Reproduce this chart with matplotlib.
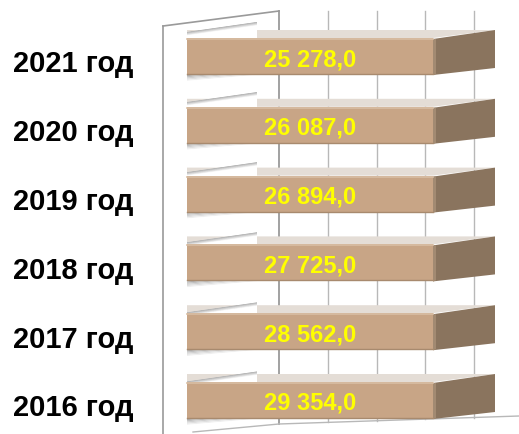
import matplotlib
matplotlib.use("Agg")
import matplotlib.pyplot as plt
from matplotlib.patches import Polygon
import numpy as np

# ---- data ----
years = ["2021 год", "2020 год", "2019 год", "2018 год", "2017 год", "2016 год"]
values = [25278.0, 26087.0, 26894.0, 27725.0, 28562.0, 29354.0]
value_labels = ["25 278,0", "26 087,0", "26 894,0", "27 725,0", "28 562,0", "29 354,0"]
grid_ticks = [0, 5000, 10000, 15000, 20000, 25000]
axis_max = 25000

# ---- geometry (pixel-based helpers) ----
W, H = 519, 435
X0_PX = 187.0                      # front origin of value axis
UPP = axis_max / 246.0             # value units per pixel
Y0_PX = 57.5                       # centre of first bar
STEP_PX = 68.8                     # category spacing in px


def dx(px):
    return px * UPP


def dy(px):
    return px / STEP_PX


def mix(c1, c2, t):
    a = np.array(matplotlib.colors.to_rgb(c1))
    b = np.array(matplotlib.colors.to_rgb(c2))
    return tuple(a + (b - a) * t)


fig = plt.figure(figsize=(W / 100, H / 100), dpi=100)
ax = fig.add_axes([0, 0, 1, 1])
ax.set_xlim(-dx(X0_PX), dx(W - X0_PX))
ax.set_ylim(dy(H - Y0_PX), -dy(Y0_PX))
ax.axis("off")

wall_col = "#9a9a9a"
y_top_back = -dy(Y0_PX - 12)
y_top_left = -dy(Y0_PX - 27)
back_x0 = dx(279 - X0_PX)
left_x = dx(163 - X0_PX)

# left wall
ax.plot([left_x, left_x], [y_top_left, dy(H - Y0_PX)], color=wall_col, lw=1.2, zorder=1)
ax.plot([left_x, back_x0], [y_top_left, y_top_back], color=wall_col, lw=1.2, zorder=1)

# back wall gridlines (scaled like the data, shifted to the back plane)
back_scale = 195.0 / (20000 / UPP)
floor_y_left = dy(425 - Y0_PX)
floor_y_right = dy(417 - Y0_PX)
x_right = dx(W - X0_PX)
for t in grid_ticks:
    gx = back_x0 + t * back_scale
    fy = floor_y_left + (floor_y_right - floor_y_left) * (gx - back_x0) / (x_right - back_x0)
    ax.plot([gx, gx], [y_top_back, fy], color=wall_col if t == 0 else "#b8b8b8",
            lw=1.3 if t == 0 else 1.0, zorder=1)
# floor lines
ax.plot([back_x0, x_right], [floor_y_left, floor_y_right], color="#b8b8b8", lw=1.0, zorder=1)
ax.plot([dx(193 - X0_PX), back_x0], [dy(433 - Y0_PX), floor_y_left], color="#b8b8b8", lw=1.0, zorder=1)

bar_h = dy(37)
top_d = dy(8)
cap_dx = dx(62)

front_col = "#c8a586"
top_col = "#e4ddd6"
cap_col = "#8a745e"

sx1 = dx(257 - X0_PX)
n_bands = 6
for i, (v, lab) in enumerate(zip(values, value_labels)):
    vis = min(v, axis_max)
    top = i - bar_h / 2
    bot = i + bar_h / 2
    # top face
    ax.add_patch(Polygon([(0, top), (0, top - top_d), (vis + cap_dx, top - top_d), (vis, top)],
                         closed=True, facecolor=top_col, edgecolor="none", zorder=3))
    # shadow strip on the left wall above the bar (covers the left part of the top face)
    lift = dy(max(6 - 1.3 * i, 0.5))
    yl, yr = top - lift, top - lift - dy(10)
    ax.add_patch(Polygon([(0, top + dy(0.5)), (0, yl), (sx1, yr), (sx1, top + dy(0.5))],
                         closed=True, facecolor="white", edgecolor="none", zorder=3.1))
    th = dy(4)
    for k in range(n_bands):
        c = mix("#9c9c9c", "#ffffff", k / (n_bands - 1))
        a0, a1 = k * th / n_bands, (k + 1) * th / n_bands
        ax.add_patch(Polygon([(0, yl + a0), (sx1, yr + a0), (sx1, yr + a1), (0, yl + a1)],
                             closed=True, facecolor=c, edgecolor="none", zorder=3.2))
    # soft shadow below the bar
    for k in range(n_bands):
        c = mix("#b0b0b0", "#ffffff", k / (n_bands - 1))
        a0, a1 = k * dy(7) / n_bands, (k + 1) * dy(7) / n_bands
        ax.add_patch(Polygon([(0, bot + a0), (sx1, bot - dy(6) + a0),
                              (sx1, bot - dy(6) + a1), (0, bot + a1)],
                             closed=True, facecolor=c, edgecolor="none", zorder=2))
    # end cap
    ax.add_patch(Polygon([(vis, top + dy(1)), (vis + cap_dx, top - top_d),
                          (vis + cap_dx, bot - top_d + dy(1)), (vis, bot)],
                         closed=True, facecolor=cap_col, edgecolor="none", zorder=3.5))
    ax.add_patch(Polygon([(vis, top + dy(1)), (vis + dx(3), top + dy(1)),
                          (vis + dx(3), bot - dy(1)), (vis, bot)],
                         closed=True, facecolor="#a28a72", edgecolor="none", zorder=3.6))
    # front face
    ax.barh(i, vis, height=bar_h, left=0, color=front_col, edgecolor="none", zorder=4)
    ax.plot([0, vis], [top + dy(1), top + dy(1)], color="#d8bea4", lw=1.2, zorder=5)
    ax.plot([0, vis], [bot - dy(1), bot - dy(1)], color="#a88a6e", lw=1.0, zorder=5)
    # value label
    ax.text(vis / 2, i + dy(2), lab, ha="center", va="center", color="#ffff00",
            fontsize=17, fontweight="bold", family="Liberation Sans", zorder=6)
    # category label
    ax.text(-dx(X0_PX - 13), i + dy(7), years[i], ha="left", va="center", color="black",
            fontsize=21, fontweight="bold", family="Liberation Sans", zorder=6)

fig.savefig("out.png", dpi=100)
